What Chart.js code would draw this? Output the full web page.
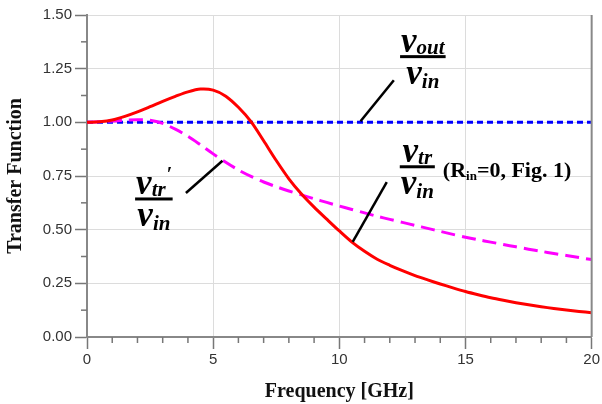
<!DOCTYPE html>
<html>
<head>
<meta charset="utf-8">
<script src="https://cdn.jsdelivr.net/npm/chart.js@4/dist/chart.umd.min.js"></script>
<style>
html, body { margin: 0; padding: 0; background: #fff; }
#wrap { width: 602px; height: 404px; }
</style>
</head>
<body>
<div id="wrap"><canvas id="grafica" width="602" height="404"></canvas></div>
<script>
// frecuencia en GHz (paso 0.5)
var frecuencias = [0, 0.5, 1, 1.5, 2, 2.5, 3, 3.5, 4, 4.5, 5, 5.5, 6, 6.5, 7, 7.5, 8, 8.5, 9, 9.5,
    10, 10.5, 11, 11.5, 12, 12.5, 13, 13.5, 14, 14.5, 15, 15.5, 16, 16.5, 17, 17.5, 18, 18.5, 19, 19.5, 20]
// v_tr / v_in (Rin=0)
var vtr = [1.000, 1.003, 1.011, 1.028, 1.049, 1.073, 1.098, 1.121, 1.142, 1.155, 1.150, 1.122, 1.070, 1.003, 0.914, 0.822, 0.737, 0.666, 0.605, 0.549,
    0.494, 0.442, 0.399, 0.362, 0.334, 0.309, 0.286, 0.266, 0.247, 0.229, 0.212, 0.197, 0.183, 0.171, 0.160, 0.150, 0.141, 0.133, 0.126, 0.119, 0.113]
// v_tr' / v_in
var vtrPrima = [1.000, 1.003, 1.006, 1.010, 1.012, 1.010, 0.995, 0.968, 0.935, 0.895, 0.853, 0.814, 0.778, 0.748, 0.722, 0.700, 0.680, 0.662, 0.644, 0.627,
    0.610, 0.594, 0.578, 0.562, 0.548, 0.534, 0.520, 0.506, 0.492, 0.478, 0.465, 0.453, 0.442, 0.431, 0.420, 0.409, 0.399, 0.389, 0.380, 0.370, 0.361]
// v_out / v_in
var vout = frecuencias.map(function () { return 1 })

var xTicks = [0, 5, 10, 15, 20]
var yTicks = [0, 0.25, 0.5, 0.75, 1.0, 1.25, 1.5]

// etiquetas (en unidades de los ejes)
var etiquetas = [
    { sub: 'out', prima: false, x: 13.31, y: 1.306, desde: [10.84, 1.005], hasta: [12.16, 1.196], extra: false },
    { sub: 'tr', prima: false, x: 13.09, y: 0.793, desde: [10.53, 0.443], hasta: [11.88, 0.722], extra: true },
    { sub: 'tr', prima: true, x: 2.65, y: 0.643, desde: [3.92, 0.671], hasta: [5.37, 0.821], extra: false }
]

function puntos(ys) {
    return frecuencias.map(function (f, i) { return { x: f, y: ys[i] } })
}

var fuenteV = 'bold italic 35px "Liberation Serif"'
var fuenteSub = 'bold italic 21px "Liberation Serif"'

function dibujarFraccion(ctx, cx, cy, e) {
    ctx.fillStyle = '#000'
    ctx.textBaseline = 'alphabetic'
    ctx.font = fuenteV
    var wv = ctx.measureText('v').width
    ctx.font = fuenteSub
    var ws = ctx.measureText(e.sub).width
    var wp = e.prima ? 6 : 0
    var wn = wv + ws + wp
    var x0 = cx - wn / 2
    ctx.font = fuenteV
    ctx.fillText('v', x0, cy - 5)
    ctx.font = fuenteSub
    ctx.fillText(e.sub, x0 + wv, cy - 3)
    if (e.prima) {
        ctx.font = 'bold 20px "Liberation Serif"'
        ctx.fillText('\u2032', x0 + wv + ws + 1, cy - 18)
    }
    ctx.font = fuenteSub
    var wi = ctx.measureText('in').width
    var wd = wv + wi
    var x1 = cx - wd / 2
    ctx.font = fuenteV
    ctx.fillText('v', x1, cy + 27)
    ctx.font = fuenteSub
    ctx.fillText('in', x1 + wv, cy + 31)
    var wb = Math.max(wn, wd) + 2
    ctx.fillRect(cx - wb / 2, cy - 1.5, wb, 3)
    return cx + wb / 2
}

var pluginEtiquetas = {
    id: 'etiquetas',
    afterDraw: function (chart) {
        var ctx = chart.ctx
        var sx = chart.scales.x
        var sy = chart.scales.y
        var area = chart.chartArea
        ctx.save()
        // ticks menores
        ctx.strokeStyle = '#777'
        ctx.lineWidth = 1.5
        for (var f = 1; f < 20; f++) {
            if (f % 5 === 0) continue
            var px = sx.getPixelForValue(f)
            ctx.beginPath()
            ctx.moveTo(px, area.bottom)
            ctx.lineTo(px, area.bottom + 6)
            ctx.stroke()
        }
        for (var v = 0.125; v < 1.5; v += 0.25) {
            var py = sy.getPixelForValue(v)
            ctx.beginPath()
            ctx.moveTo(area.left, py)
            ctx.lineTo(area.left - 6, py)
            ctx.stroke()
        }
        // borde derecho
        ctx.strokeStyle = '#888'
        ctx.lineWidth = 2
        ctx.beginPath()
        ctx.moveTo(area.right, area.top)
        ctx.lineTo(area.right, area.bottom)
        ctx.stroke()

        etiquetas.forEach(function (e) {
            ctx.strokeStyle = '#000'
            ctx.lineWidth = 2.5
            ctx.beginPath()
            ctx.moveTo(sx.getPixelForValue(e.desde[0]), sy.getPixelForValue(e.desde[1]))
            ctx.lineTo(sx.getPixelForValue(e.hasta[0]), sy.getPixelForValue(e.hasta[1]))
            ctx.stroke()
            var cx = sx.getPixelForValue(e.x)
            var cy = sy.getPixelForValue(e.y)
            var fin = dibujarFraccion(ctx, cx, cy, e)
            if (e.extra) {
                var xx = fin + 8
                var base = cy + 10
                ctx.font = 'bold 22px "Liberation Serif"'
                ctx.fillText('(R', xx, base)
                xx += ctx.measureText('(R').width
                ctx.font = 'bold 13px "Liberation Serif"'
                ctx.fillText('in', xx, base + 3)
                xx += ctx.measureText('in').width
                ctx.font = 'bold 22px "Liberation Serif"'
                ctx.fillText('=0, Fig. 1)', xx, base)
            }
        })
        ctx.restore()
    }
}

function generarGrafica() {
    return new Chart('grafica', {
        type: 'line',
        data: {
            datasets: [
                { data: puntos(vtr), borderColor: '#ff0000', borderWidth: 3, pointRadius: 0, tension: 0.3, fill: false },
                { data: puntos(vtrPrima), borderColor: '#ff00ff', borderWidth: 3, borderDash: [14, 7], pointRadius: 0, tension: 0.3, fill: false },
                { data: puntos(vout), borderColor: '#0000ff', borderWidth: 3, borderDash: [6, 4], pointRadius: 0, fill: false }
            ]
        },
        options: {
            responsive: false,
            animation: false,
            layout: { padding: { top: 15, right: 10, left: 0, bottom: 0 } },
            plugins: { legend: { display: false }, tooltip: { enabled: false } },
            scales: {
                x: {
                    type: 'linear', min: 0, max: 20,
                    afterBuildTicks: function (s) { s.ticks = xTicks.map(function (v) { return { value: v } }) },
                    afterFit: function (s) { s.height = 67 },
                    grid: { color: '#dcdcdc', lineWidth: 1, tickLength: 12, tickColor: '#777', tickWidth: 1.5 },
                    border: { color: '#888', width: 2 },
                    ticks: { color: '#333', font: { family: '"Liberation Sans"', size: 15 }, padding: 2, maxRotation: 0 },
                    title: { display: true, text: 'Frequency [GHz]', color: '#111', font: { family: '"Liberation Serif"', size: 20, weight: 'bold' }, padding: { top: 8, bottom: 0 } }
                },
                y: {
                    type: 'linear', min: 0, max: 1.5,
                    afterBuildTicks: function (s) { s.ticks = yTicks.map(function (v) { return { value: v } }) },
                    afterFit: function (s) { s.width = 87 },
                    grid: { color: '#dcdcdc', lineWidth: 1, tickLength: 12, tickColor: '#777', tickWidth: 1.5 },
                    border: { color: '#888', width: 2 },
                    ticks: { color: '#333', font: { family: '"Liberation Sans"', size: 15 }, padding: 3, callback: function (v) { return v.toFixed(2) } },
                    title: { display: true, text: 'Transfer Function', color: '#111', font: { family: '"Liberation Serif"', size: 20, weight: 'bold' }, padding: { top: 4, bottom: 4 } }
                }
            }
        },
        plugins: [pluginEtiquetas]
    })
}

generarGrafica()
</script>
</body>
</html>
